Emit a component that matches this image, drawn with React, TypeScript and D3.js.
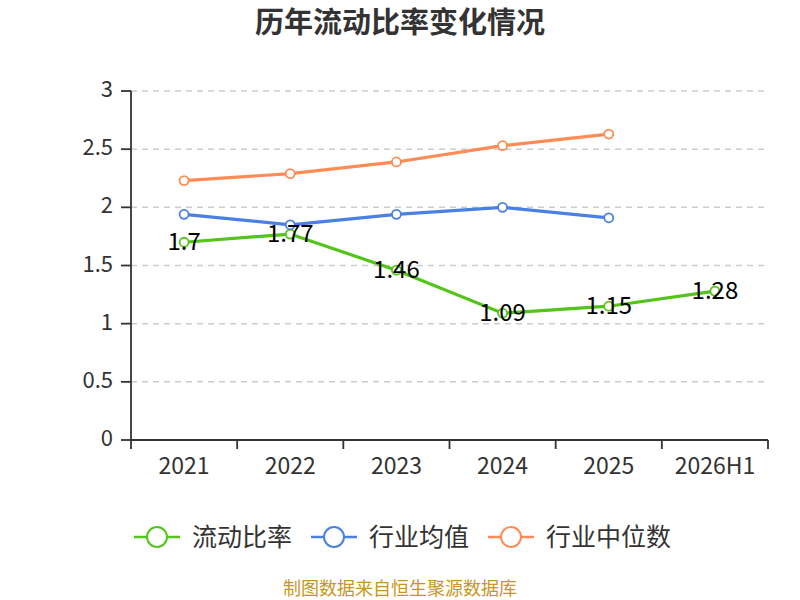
import * as d3 from 'd3'

const categories = ['2021', '2022', '2023', '2024', '2025', '2026H1']
const currentRatio = [1.7, 1.77, 1.46, 1.09, 1.15, 1.28]
const industryMean = [1.94, 1.85, 1.94, 2.0, 1.91]
const industryMedian = [2.23, 2.29, 2.39, 2.53, 2.63]
const yTicks = [0, 0.5, 1, 1.5, 2, 2.5, 3]

const seriesList = [
  { name: '流动比率', values: currentRatio, color: '#52c41a', labels: true },
  { name: '行业均值', values: industryMean, color: '#4a80e2', labels: false },
  { name: '行业中位数', values: industryMedian, color: '#ff8c55', labels: false },
]

const font = '"Microsoft YaHei", "Noto Sans CJK SC", sans-serif'

export default function App() {
  const width = 800
  const height = 600
  const margin = { top: 91, right: 32, bottom: 160, left: 131 }
  const innerWidth = width - margin.left - margin.right
  const innerHeight = height - margin.top - margin.bottom

  const x = d3.scaleBand<string>().domain(categories).range([0, innerWidth])
  const y = d3.scaleLinear().domain([0, 3]).range([innerHeight, 0])
  const cx = (c: string) => (x(c) ?? 0) + x.bandwidth() / 2

  const line = d3
    .line<number>()
    .x((_, i) => cx(categories[i]))
    .y((v) => y(v))

  const legendX = [134, 311, 488]

  return (
    <svg
      width={width}
      height={height}
      style={{ position: 'absolute', left: 0, top: 0 }}
      fontFamily={font}
    >
      <text x={400} y={33} textAnchor="middle" fontSize={29} fontWeight="bold" fill="#333">
        历年流动比率变化情况
      </text>

      <g transform={`translate(${margin.left}, ${margin.top})`}>
        {yTicks.map((t) => (
          <g key={t} transform={`translate(0, ${y(t)})`}>
            {t > 0 && (
              <line x1={0} x2={innerWidth} stroke="#ccc" strokeDasharray="6,5" strokeWidth={1.5} />
            )}
            <line x1={-10} x2={0} stroke="#333" strokeWidth={1.8} />
            <text x={-18} y={6} textAnchor="end" fontSize={22} fill="#333">
              {t}
            </text>
          </g>
        ))}
        <line x1={0} x2={0} y1={0} y2={innerHeight} stroke="#333" strokeWidth={1.8} />
        <line x1={0} x2={innerWidth} y1={innerHeight} y2={innerHeight} stroke="#333" strokeWidth={1.8} />
        {categories.map((c) => (
          <line
            key={`tk-${c}`}
            x1={x(c) ?? 0}
            x2={x(c) ?? 0}
            y1={innerHeight}
            y2={innerHeight + 9}
            stroke="#333"
            strokeWidth={1.8}
          />
        ))}
        <line x1={innerWidth} x2={innerWidth} y1={innerHeight} y2={innerHeight + 9} stroke="#333" strokeWidth={1.8} />
        {categories.map((c) => (
          <text key={`xl-${c}`} x={cx(c)} y={innerHeight + 34} textAnchor="middle" fontSize={23} fill="#333">
            {c}
          </text>
        ))}

        {seriesList.map((s) => (
          <g key={s.name}>
            <path d={line(s.values) ?? ''} fill="none" stroke={s.color} strokeWidth={3.2} />
            {s.values.map((v, i) => (
              <circle key={i} cx={cx(categories[i])} cy={y(v)} r={4.5} fill="#fff" stroke={s.color} strokeWidth={1.8} />
            ))}
          </g>
        ))}
        {seriesList
          .filter((s) => s.labels)
          .map((s) =>
            s.values.map((v, i) => (
              <text
                key={`lb-${i}`}
                x={cx(categories[i])}
                y={y(v) + 8}
                textAnchor="middle"
                fontSize={24}
                fill="#000"
              >
                {v}
              </text>
            ))
          )}
      </g>

      {seriesList.map((s, i) => (
        <g key={`lg-${s.name}`} transform={`translate(${legendX[i]}, 537)`}>
          <line x1={0} x2={46} stroke={s.color} strokeWidth={2.5} />
          <circle cx={23} cy={0} r={10} fill="#fff" stroke={s.color} strokeWidth={2} />
          <text x={58} y={9} fontSize={25} fill="#333">
            {s.name}
          </text>
        </g>
      ))}

      <text x={400} y={595} textAnchor="middle" fontSize={18} fill="#c8961e">
        制图数据来自恒生聚源数据库
      </text>
    </svg>
  )
}
